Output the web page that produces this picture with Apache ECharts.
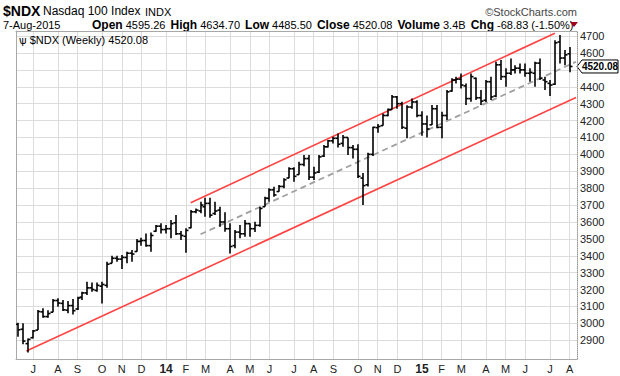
<!DOCTYPE html>
<html><head><meta charset="utf-8">
<script src="https://cdn.jsdelivr.net/npm/echarts@6/dist/echarts.min.js"></script>
<style>html,body{margin:0;padding:0;background:#fff}#c{width:620px;height:376px}</style>
</head><body><div id="c"></div>
<script>
// Weekly bars, week starting Monday 2013-06-10 ... 2015-08-03 (plus one empty slot)
const firstWeek = '2013-06-10';
const openV = [2995,2965,2880,2915,2960,3068,3040,3066,3135,3118,3078,3105,3085,3155,3180,3210,3195,3220,3225,3355,3385,3380,3390,3415,3425,3485,3490,3460,3545,3575,
3555,3560,3595,3530,3515,3565,3660,3665,3690,3710,3650,3670,3600,3560,3460,3540,3530,3590,3560,3580,3690,3740,3790,3780,3810,3860,3915,3880,3940,3975,
3865,3895,3990,4045,4080,4095,4065,4100,4040,4030,3860,3820,4000,4158,4170,4230,4265,4340,4300,4155,4280,4310,4230,4180,4175,4270,4160,4230,4375,4440,
4445,4405,4330,4450,4335,4320,4430,4345,4530,4460,4480,4500,4510,4500,4480,4480,4540,4440,4420,4415,4665,4570,4595.26];
const highV = [3004,3000,2911,2960,3079,3089,3077,3144,3148,3138,3132,3144,3158,3187,3246,3242,3242,3246,3365,3400,3400,3404,3424,3434,3499,3507,3532,3538,3582,3592,
3582,3611,3641,3546,3562,3671,3680,3720,3743,3743,3720,3690,3657,3592,3552,3582,3611,3592,3601,3690,3749,3799,3808,3818,3858,3923,3923,3956,3996,3996,
3927,3996,4055,4085,4104,4124,4114,4100,4055,4060,3890,4010,4164,4180,4242,4272,4351,4345,4311,4290,4330,4320,4255,4230,4292,4292,4252,4381,4450,4460,
4479,4420,4479,4455,4381,4440,4460,4548,4558,4509,4568,4528,4538,4538,4509,4548,4568,4459,4440,4676,4706,4617,4634.70];
const lowV = [2921,2876,2828,2911,2960,3033,3033,3065,3098,3073,3059,3053,3079,3138,3168,3187,3187,3118,3211,3355,3365,3321,3355,3365,3424,3459,3453,3424,3542,3532,
3532,3503,3523,3493,3418,3562,3651,3651,3631,3625,3641,3572,3542,3414,3444,3503,3513,3513,3540,3572,3690,3720,3749,3779,3799,3858,3838,3880,3930,3848,
3848,3890,3985,4040,4065,4040,4045,3996,3976,3860,3700,3810,3990,4128,4170,4225,4265,4270,4150,4095,4270,4220,4110,4100,4173,4154,4095,4203,4371,4420,
4390,4292,4311,4321,4292,4310,4321,4340,4440,4400,4469,4479,4479,4459,4430,4400,4440,4381,4345,4410,4538,4528,4485.50];
const closeV = [2962,2895,2905,2955,3070,3040,3058,3135,3120,3080,3105,3075,3150,3180,3210,3200,3225,3230,3350,3385,3380,3390,3415,3410,3485,3490,3460,3520,3575,3555,
3560,3590,3530,3520,3550,3660,3670,3700,3710,3640,3665,3600,3560,3455,3540,3530,3590,3560,3580,3680,3740,3790,3760,3810,3850,3915,3870,3940,3975,3865,
3890,3985,4045,4080,4095,4060,4100,4040,4030,3870,3815,4000,4160,4165,4230,4265,4340,4300,4160,4280,4310,4230,4180,4150,4270,4160,4230,4370,4440,4445,
4410,4330,4460,4335,4315,4430,4340,4530,4460,4480,4500,4510,4500,4480,4485,4540,4450,4430,4410,4660,4570,4588.91,4520.08];
// trend lines: [week index, value]
const upperLine = [[35, 3714], [109, 4717]];
const lowerLine = [[1.6, 2836], [113.3, 4337]];
const midLine = [[37, 3527], [113.3, 4548]];
const yTicks = [2900,3000,3100,3200,3300,3400,3500,3600,3700,3800,3900,4000,4100,4200,4300,4400,4500,4600,4700];
// 4500 label is hidden behind the last-price box in the reference
const yLabels = [2900,3000,3100,3200,3300,3400,3500,3600,3700,3800,3900,4000,4100,4200,4300,4400,4600,4700];
const lastClose = 4520.08;

const nSlots = 114;
const weeks = [];
{
  const d0 = new Date(firstWeek + 'T00:00:00Z');
  for (let i = 0; i < nSlots; i++) {
    const d = new Date(d0.getTime() + i * 7 * 86400000);
    weeks.push(d.toISOString().slice(0, 10));
  }
}
const monthIdx = [];
for (let i = 1; i < weeks.length; i++) {
  if (weeks[i].slice(5, 7) !== weeks[i - 1].slice(5, 7)) monthIdx.push(i);
}
const letters = 'JFMAMJJASOND';
function xLabel(v) {
  const w = weeks[Math.round(v)];
  if (!w) return '';
  const m = +w.slice(5, 7);
  if (m === 1) return '{y|' + w.slice(2, 4) + '}';
  return letters[m - 1];
}
const ohlc = openV.map((o, i) => [i, o, highV[i], lowV[i], closeV[i]]);

const chart = echarts.init(document.getElementById('c'), null, { renderer: 'svg' });
const FONT = 'Liberation Sans, Arial, sans-serif';
const option = {
  animation: false,
  backgroundColor: '#fff',
  grid: { left: 16, right: 43, top: 31, bottom: 17, show: false },
  xAxis: [{
    type: 'value', min: -0.5, max: nSlots - 0.5, position: 'bottom',
    axisLine: { show: true, onZero: false, lineStyle: { color: '#a8a8a8', width: 1 } },
    axisTick: { show: false, customValues: monthIdx },
    axisLabel: { customValues: monthIdx, formatter: xLabel, color: '#222', fontFamily: FONT, fontSize: 11, margin: 4,
      rich: { y: { fontWeight: 'bold', fontSize: 12, color: '#222', fontFamily: FONT } } },
    splitLine: { show: true, lineStyle: { color: '#dcdcdc', width: 1 } }
  }, {
    type: 'value', min: -0.5, max: nSlots - 0.5, position: 'top',
    axisLine: { show: true, onZero: false, lineStyle: { color: '#a8a8a8', width: 1 } },
    axisTick: { show: false }, axisLabel: { show: false }, splitLine: { show: false }
  }],
  yAxis: [{
    type: 'value', min: 2789, max: 4730, position: 'right', scale: true,
    axisLine: { show: true, onZero: false, lineStyle: { color: '#999', width: 1, type: 'dotted' } },
    axisTick: { show: false, customValues: yTicks },
    axisLabel: { customValues: yLabels, formatter: v => String(v), color: '#222', fontFamily: FONT, fontSize: 11, margin: 3 },
    splitLine: { show: true, lineStyle: { color: '#dcdcdc', width: 1 } }
  }, {
    type: 'value', min: 2789, max: 4730, position: 'left', scale: true,
    axisLine: { show: true, onZero: false, lineStyle: { color: '#a8a8a8', width: 1 } },
    axisTick: { show: false }, axisLabel: { show: false }, splitLine: { show: false }
  }],
  series: [{
    type: 'line', data: lowerLine, symbol: 'none', z: 3,
    lineStyle: { color: '#ff4444', width: 1.6 }, silent: true
  }, {
    type: 'line', data: upperLine, symbol: 'none', z: 3,
    lineStyle: { color: '#ff4444', width: 1.6 }, silent: true
  }, {
    type: 'line', data: midLine, symbol: 'none', z: 3,
    lineStyle: { color: '#a0a0a0', width: 1.8, type: [6, 4] }, silent: true
  }, {
    type: 'custom', data: ohlc, z: 5, clip: true,
    renderItem(params, api) {
      const x = api.value(0);
      const o = api.coord([x, api.value(1)]);
      const h = api.coord([x, api.value(2)]);
      const l = api.coord([x, api.value(3)]);
      const c = api.coord([x, api.value(4)]);
      const px = Math.round(h[0]);
      const st = { stroke: '#000', lineWidth: 1.6 };
      return { type: 'group', children: [
        { type: 'line', shape: { x1: px, y1: h[1], x2: px, y2: l[1] }, style: st },
        { type: 'line', shape: { x1: px - 2.5, y1: o[1], x2: px, y2: o[1] }, style: st },
        { type: 'line', shape: { x1: px, y1: c[1], x2: px + 2.5, y2: c[1] }, style: st }
      ]};
    }
  }]
};
chart.setOption(option);

const yLast = chart.convertToPixel({ yAxisIndex: 0 }, lastClose);
const xRight = chart.convertToPixel({ xAxisIndex: 0 }, nSlots - 0.5);
chart.setOption({
  graphic: [
    { type: 'text', left: 3, top: 4, style: { text: '$NDX', font: 'bold 14px ' + FONT, fill: '#000' } },
    { type: 'text', left: 43, top: 5, style: { text: 'Nasdaq 100 Index', font: '12px ' + FONT, fill: '#000' } },
    { type: 'text', left: 145, top: 6, style: { text: 'INDX', font: '11px ' + FONT, fill: '#000' } },
    { type: 'text', right: 43, top: 6, style: { text: '\u00A9StockCharts.com', font: '11px ' + FONT, fill: '#444' } },
    { type: 'text', left: 3, top: 19, style: { text: '7-Aug-2015', font: '11px ' + FONT, fill: '#000' } },
    { type: 'text', left: 92, top: 19, style: {
      text: '{b|Open} 4595.26 {b|High} 4634.70 {b|Low} 4485.50 {b|Close} 4520.08 {b|Volume} 3.4B {b|Chg} -68.83 (-1.50%)',
      font: '11px ' + FONT, fill: '#000',
      rich: { b: { font: 'bold 12px ' + FONT, fill: '#000', padding: [0, 0, 0, 2] } } } },
    { type: 'polygon', shape: { points: [[570, 22], [578, 22], [574, 27]] }, style: { fill: '#a00020' } },
    { type: 'text', left: 19, top: 34, style: { text: '\u0471 $NDX (Weekly) 4520.08', font: '11px ' + FONT, fill: '#000' } },
    { type: 'group', x: xRight, y: yLast, children: [
      { type: 'polygon', shape: { points: [[0, 0], [5, -6.5], [41, -6.5], [41, 6.5], [5, 6.5]] }, style: { fill: '#fff', stroke: '#000', lineWidth: 1 } },
      { type: 'text', x: 23, y: 0, style: { text: lastClose.toFixed(2), font: 'bold 10px ' + FONT, fill: '#000', align: 'center', verticalAlign: 'middle' } }
    ] }
  ]
});
</script>
</body></html>
